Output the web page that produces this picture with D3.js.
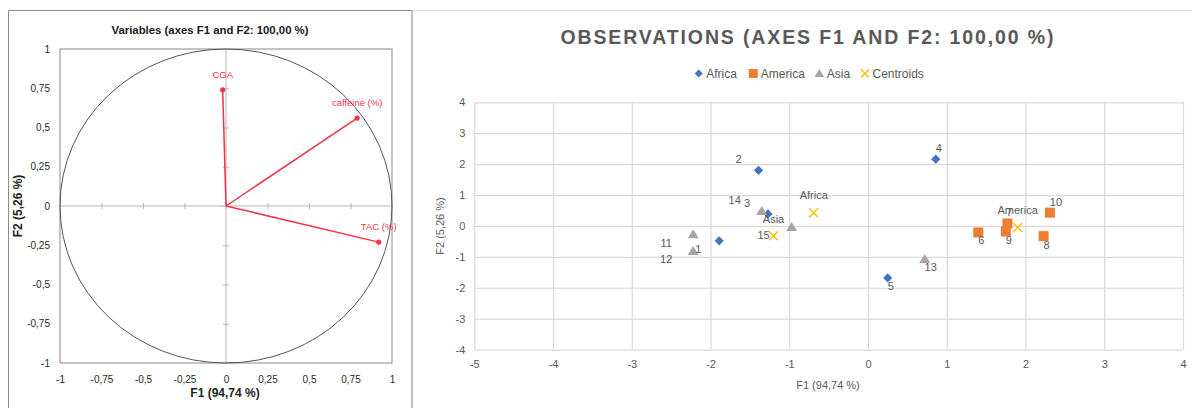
<!DOCTYPE html>
<html><head><meta charset="utf-8">
<script src="https://cdn.jsdelivr.net/npm/d3@7"></script>
<style>
html,body{margin:0;padding:0;background:#fff;}
svg{display:block;font-family:"Liberation Sans","DejaVu Sans",sans-serif;}
</style></head>
<body>
<svg id="c" width="1192" height="408"></svg>
<script>
// ---- Variables (correlation circle) ----
const varNames = ["CGA", "caffeine (%)", "TAC (%)"];
const varF1 = [-0.02, 0.79, 0.92];
const varF2 = [0.74, 0.56, -0.23];
const circleTicks = [-1, -0.75, -0.5, -0.25, 0, 0.25, 0.5, 0.75, 1];

// ---- Observations ----
const africaIds = ["1", "2", "3", "4", "5"];
const africaF1 = [-1.89, -1.39, -1.27, 0.86, 0.25];
const africaF2 = [-0.48, 1.80, 0.39, 2.16, -1.68];
const americaIds = ["6", "7", "8", "9", "10"];
const americaF1 = [1.40, 1.77, 2.23, 1.75, 2.31];
const americaF2 = [-0.21, 0.08, -0.33, -0.18, 0.43];
const asiaIds = ["11", "12", "13", "14", "15"];
const asiaF1 = [-2.22, -2.22, 0.72, -1.35, -0.97];
const asiaF2 = [-0.27, -0.81, -1.07, 0.48, -0.03];
const centroidNames = ["Africa", "America", "Asia"];
const centroidF1 = [-0.69, 1.90, -1.20];
const centroidF2 = [0.43, -0.05, -0.32];
const obsXTicks = [-5, -4, -3, -2, -1, 0, 1, 2, 3, 4];
const obsYTicks = [-4, -3, -2, -1, 0, 1, 2, 3, 4];

// label placement (pixel offsets from the marker)
const africaLabelOff = [[-21, 8], [-20, -11], [-21, -11], [3, -11], [3, 8]];
const americaLabelOff = [[3, 8], [2, -11], [3, 9], [3, 8], [6, -11]];
const asiaLabelOff = [[-27, 9], [-27, 8], [6, 8], [-27, -11], [-28, 8]];
const centroidLabelOff = [[0, -18], [0, -17], [0, -17]];

const comma = d => String(d).replace(".", ",");
const svg = d3.select("#c");

// ================= LEFT PANEL =================
svg.append("path").attr("d", "M8.5,408 V10.5 H412.5")
  .attr("fill", "none").attr("stroke", "#8c8c8c").attr("stroke-width", 1);
svg.append("line").attr("x1", 412).attr("x2", 412).attr("y1", 10).attr("y2", 408)
  .attr("stroke", "#c0c0c0").attr("stroke-width", 2);
svg.append("line").attr("x1", 413).attr("x2", 1192).attr("y1", 10.5).attr("y2", 10.5)
  .attr("stroke", "#dcdcdc").attr("stroke-width", 1);

const lx = d3.scaleLinear().domain([-1, 1]).range([60, 392]);
const ly = d3.scaleLinear().domain([-1, 1]).range([363, 49]);
const L = svg.append("g");

L.append("text").attr("x", 210).attr("y", 34).attr("text-anchor", "middle")
  .attr("font-size", 11).attr("font-weight", "bold").attr("fill", "#1a1a1a")
  .attr("textLength", 197).attr("lengthAdjust", "spacingAndGlyphs")
  .text("Variables (axes F1 and F2: 100,00 %)");

L.append("rect").attr("x", lx(-1)).attr("y", ly(1)).attr("width", lx(1) - lx(-1))
  .attr("height", ly(-1) - ly(1)).attr("fill", "none").attr("stroke", "#8a8a8a").attr("stroke-width", 1);

// zero axes with crossing ticks
const inner = circleTicks.filter(d => Math.abs(d) < 1);
const zx = L.append("g").attr("transform", `translate(0,${ly(0)})`)
  .call(d3.axisBottom(lx).tickValues(inner).tickSize(3).tickFormat(""));
zx.selectAll("line").attr("y1", -3);
const zy = L.append("g").attr("transform", `translate(${lx(0)},0)`)
  .call(d3.axisLeft(ly).tickValues(inner).tickSize(3).tickFormat(""));
zy.selectAll("line").attr("x1", 3);
[zx, zy].forEach(g => { g.selectAll("line").attr("stroke", "#b5b5b5"); g.select(".domain").remove(); });
L.append("line").attr("x1", lx(-1)).attr("x2", lx(1)).attr("y1", ly(0)).attr("y2", ly(0)).attr("stroke", "#b5b5b5");
L.append("line").attr("x1", lx(0)).attr("x2", lx(0)).attr("y1", ly(-1)).attr("y2", ly(1)).attr("stroke", "#b5b5b5");

// tick labels on the frame
const bx = L.append("g").attr("transform", `translate(0,${ly(-1)})`)
  .call(d3.axisBottom(lx).tickValues(circleTicks).tickSize(0).tickPadding(13).tickFormat(comma));
const by = L.append("g").attr("transform", `translate(${lx(-1)},0)`)
  .call(d3.axisLeft(ly).tickValues(circleTicks).tickSize(0).tickPadding(10).tickFormat(comma));
[bx, by].forEach(g => {
  g.select(".domain").remove();
  g.selectAll("text").attr("font-size", 10).attr("fill", "#2a2a2a").attr("font-family", "Liberation Sans, sans-serif");
});

// circle
L.append("ellipse").attr("cx", lx(0)).attr("cy", ly(0))
  .attr("rx", lx(1) - lx(0)).attr("ry", ly(0) - ly(1))
  .attr("fill", "none").attr("stroke", "#555").attr("stroke-width", 1);

// vectors
const vcol = "#f2334a";
varNames.forEach((n, i) => {
  L.append("line").attr("x1", lx(0)).attr("y1", ly(0)).attr("x2", lx(varF1[i])).attr("y2", ly(varF2[i]))
    .attr("stroke", vcol).attr("stroke-width", 1.5);
  L.append("circle").attr("cx", lx(varF1[i])).attr("cy", ly(varF2[i])).attr("r", 2.6).attr("fill", vcol);
  L.append("text").attr("x", lx(varF1[i])).attr("y", ly(varF2[i]) - 12)
    .attr("text-anchor", "middle").attr("font-size", 9.5).attr("fill", vcol).text(n);
});

L.append("text").attr("x", 225).attr("y", 397).attr("text-anchor", "middle")
  .attr("font-size", 12).attr("font-weight", "bold").attr("fill", "#222").text("F1 (94,74 %)");
L.append("text").attr("transform", `translate(22,206) rotate(-90)`).attr("text-anchor", "middle")
  .attr("font-size", 12).attr("font-weight", "bold").attr("fill", "#222").text("F2 (5,26 %)");

// ================= RIGHT PANEL =================
const rx = d3.scaleLinear().domain([-5, 4]).range([474.3, 1183]);
const ry = d3.scaleLinear().domain([-4, 4]).range([349.6, 102.3]);
const R = svg.append("g");
const grey = "#595959";

R.append("text").attr("x", 807).attr("y", 44).attr("text-anchor", "middle")
  .attr("font-size", 19.5).attr("font-weight", "bold").attr("fill", grey)
  .attr("textLength", 493).attr("lengthAdjust", "spacing")
  .text("OBSERVATIONS (AXES F1 AND F2: 100,00 %)");

// grid
const gx = R.append("g").attr("transform", `translate(0,${ry(-4)})`)
  .call(d3.axisBottom(rx).tickValues(obsXTicks).tickSize(-(ry(-4) - ry(4))).tickPadding(11).tickFormat(d => d));
const gy = R.append("g").attr("transform", `translate(${rx(-5)},0)`)
  .call(d3.axisLeft(ry).tickValues(obsYTicks).tickSize(-(rx(4) - rx(-5))).tickPadding(9).tickFormat(d => d));
[gx, gy].forEach(g => {
  g.select(".domain").remove();
  g.selectAll("line").attr("stroke", "#d9d9d9").attr("stroke-width", 1.2);
  g.selectAll("text").attr("font-size", 11).attr("fill", grey).attr("font-family", "Liberation Sans, sans-serif");
});

const symDiamond = (s) => `M0,${-s}L${s},0L0,${s}L${-s},0Z`;
const symSquare = (s) => `M${-s},${-s}H${s}V${s}H${-s}Z`;
const symTri = (s) => `M0,${-s}L${s * 1.1},${s * 0.8}H${-s * 1.1}Z`;
const symX = (s) => `M${-s},${-s}L${s},${s}M${-s},${s}L${s},${-s}`;

const C_AF = "#4472c4", C_AM = "#ed7d31", C_AS = "#a5a5a5", C_CE = "#ffc000";

function drawSeries(f1, f2, path, fill, stroke) {
  f1.forEach((v, i) => {
    R.append("path").attr("d", path).attr("transform", `translate(${rx(v)},${ry(f2[i])})`)
      .attr("fill", fill).attr("stroke", stroke).attr("stroke-width", stroke === "none" ? 0 : 1.4);
  });
}
function drawLabels(f1, f2, ids, offs) {
  f1.forEach((v, i) => {
    R.append("text").attr("x", rx(v) + offs[i][0]).attr("y", ry(f2[i]) + offs[i][1])
      .attr("text-anchor", "middle").attr("dominant-baseline", "central")
      .attr("font-size", 11).attr("fill", grey).text(ids[i]);
  });
}
drawSeries(africaF1, africaF2, symDiamond(4.6), C_AF, "none");
drawSeries(americaF1, americaF2, symSquare(5), C_AM, "none");
drawSeries(asiaF1, asiaF2, symTri(5), C_AS, "none");
drawSeries(centroidF1, centroidF2, symX(4.5), "none", C_CE);

drawLabels(africaF1, africaF2, africaIds, africaLabelOff);
drawLabels(americaF1, americaF2, americaIds, americaLabelOff);
drawLabels(asiaF1, asiaF2, asiaIds, asiaLabelOff);
drawLabels(centroidF1, centroidF2, centroidNames, centroidLabelOff);

// axis titles
R.append("text").attr("x", 828).attr("y", 389).attr("text-anchor", "middle")
  .attr("font-size", 11).attr("fill", grey).text("F1 (94,74 %)");
R.append("text").attr("transform", `translate(444,226) rotate(-90)`).attr("text-anchor", "middle")
  .attr("font-size", 11).attr("fill", grey).text("F2 (5,26 %)");

// legend
const legend = [
  { name: "Africa", path: symDiamond(4), fill: C_AF, stroke: "none", x: 698.7 },
  { name: "America", path: symSquare(4.5), fill: C_AM, stroke: "none", x: 753.3 },
  { name: "Asia", path: symTri(4.4), fill: C_AS, stroke: "none", x: 819.3 },
  { name: "Centroids", path: symX(4), fill: "none", stroke: C_CE, x: 865 }
];
legend.forEach(l => {
  R.append("path").attr("d", l.path).attr("transform", `translate(${l.x},73.5)`)
    .attr("fill", l.fill).attr("stroke", l.stroke).attr("stroke-width", l.stroke === "none" ? 0 : 1.4);
  R.append("text").attr("x", l.x + 7.5).attr("y", 73.5).attr("dominant-baseline", "central")
    .attr("font-size", 12).attr("fill", grey).text(l.name);
});
</script>
</body></html>
